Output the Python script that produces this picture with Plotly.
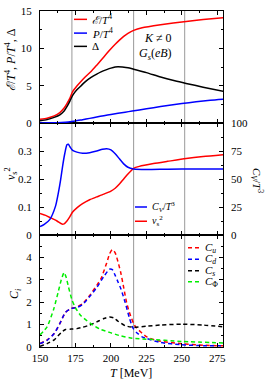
import plotly.graph_objects as go

# ---------------- data ----------------
# top panel
T_eps = [150, 155, 160, 164, 167, 169, 171, 173, 176, 179, 182, 186, 190, 193, 197, 200, 203, 206, 209, 212, 216, 222, 235, 253, 265, 280]
eps = [0.5, 0.65, 0.95, 1.4, 2.0, 2.6, 3.3, 4.2, 4.95, 5.6, 6.2, 6.9, 7.75, 8.4, 9.3, 9.95, 10.55, 11.1, 11.6, 12.0, 12.4, 12.75, 13.15, 13.6, 13.85, 14.1]
T_delta = [150, 155, 160, 164, 167, 169, 171, 173, 176, 179, 182, 186, 190, 193, 197, 200, 203, 205, 208, 212, 216, 225, 235, 245, 253, 265, 280]
delta = [0.3, 0.45, 0.75, 1.1, 1.6, 2.2, 2.9, 3.7, 4.45, 5.0, 5.55, 6.1, 6.55, 6.85, 7.15, 7.35, 7.5, 7.55, 7.5, 7.4, 7.2, 6.75, 6.15, 5.65, 5.3, 4.8, 4.2]
T_p = [150, 160, 165, 170, 175, 180, 185, 190, 195, 200, 210, 215, 220, 230, 240, 250, 260, 270, 280]
pres = [0.0, 0.02, 0.07, 0.15, 0.28, 0.45, 0.62, 0.8, 0.98, 1.15, 1.45, 1.6, 1.75, 2.05, 2.35, 2.6, 2.85, 3.05, 3.2]

# middle panel
T_cv = [150, 153, 157, 161, 163, 164.5, 166, 167.5, 169, 170, 171, 173, 176, 180, 185, 190, 194, 197, 200, 203, 206, 209, 212, 216, 225, 240, 260, 280]
cv = [7.5, 9.5, 14, 26, 38, 49, 62, 73, 80.5, 81, 79, 75.5, 74, 73, 73.5, 75, 76.5, 77, 76, 72.5, 68, 63.5, 60.5, 59, 58.5, 58.8, 59, 59]
T_vs = [150, 154, 158, 162, 165.5, 167, 169, 171, 173, 176, 180, 185, 190, 195, 200, 203, 206, 209, 212, 216, 220, 230, 240, 253, 265, 280]
vs2 = [0.077, 0.07, 0.06, 0.05, 0.039, 0.04, 0.05, 0.065, 0.082, 0.097, 0.112, 0.126, 0.136, 0.146, 0.157, 0.167, 0.182, 0.2, 0.218, 0.238, 0.245, 0.255, 0.263, 0.273, 0.28, 0.287]

# bottom panel
T_u = [150, 155, 160, 164, 168, 172, 176, 180, 185, 190, 193, 197, 199, 201, 203, 205, 207, 209, 211, 213, 216, 218, 222, 225, 233, 250, 265, 280]
cu = [0.15, 0.32, 0.6, 1.05, 1.55, 1.72, 1.78, 1.93, 2.3, 2.75, 3.05, 3.75, 4.15, 4.35, 4.2, 3.8, 3.3, 2.65, 2.0, 1.55, 1.05, 0.85, 0.62, 0.46, 0.28, 0.15, 0.08, 0.05]
T_d = [150, 155, 160, 164, 168, 172, 176, 180, 185, 190, 195, 199, 201, 203, 205, 207, 210, 213, 215.5, 218, 222, 225, 235, 250, 265, 280]
cd = [0.15, 0.3, 0.6, 1.05, 1.55, 1.72, 1.76, 1.9, 2.25, 2.65, 3.15, 3.47, 3.45, 3.2, 2.9, 2.6, 2.0, 1.3, 0.85, 0.65, 0.45, 0.38, 0.2, 0.1, 0.06, 0.05]
T_s = [150, 155, 160, 165, 168, 172, 176, 180, 185, 190, 195, 199, 202, 205, 210, 216, 225, 235, 250, 265, 280]
cs = [0.03, 0.15, 0.32, 0.65, 0.78, 0.8, 0.82, 0.88, 0.98, 1.12, 1.27, 1.34, 1.3, 1.15, 0.95, 0.88, 0.93, 0.98, 1.02, 0.98, 0.9]
T_phi = [150, 155, 159.7, 163, 165, 167, 168.5, 170, 172.7, 175, 178.5, 185.6, 192.6, 199.6, 206.7, 215, 225, 250, 280]
cphi = [0.54, 0.9, 1.7, 2.5, 3.0, 3.33, 3.1, 2.7, 2.07, 1.75, 1.42, 1.05, 0.79, 0.64, 0.5, 0.39, 0.35, 0.25, 0.18]

vlines_T = [172.5, 216, 252]
x_ticks = [150, 175, 200, 225, 250, 275]

# ---------------- figure ----------------
FONT = "Liberation Serif"
W, H = 266, 380
ML, MR, MT, MB = 40, 43, 5, 33
PW, PH = W - ML - MR, H - MT - MB


def px(xp):
    return (xp - ML) / PW


def py(yp):
    return (H - MB - yp) / PH


fig = go.Figure()


def line(color, dash="solid"):
    return dict(color=color, width=1.5, dash=dash, shape="spline", smoothing=0.6)


RED, BLUE, BLACK, GREEN = "#ff0000", "#0000ff", "#000000", "#00ee00"
DASH = "4px,3px"

series = [
    (T_eps, eps, "x3", "y4", "<i>ℰ</i>/<i>T</i><sup>4</sup>", RED, "solid"),
    (T_p, pres, "x3", "y4", "<i>P</i>/<i>T</i><sup>4</sup>", BLUE, "solid"),
    (T_delta, delta, "x3", "y4", "Δ", BLACK, "solid"),
    (T_cv, cv, "x2", "y3", "<i>C<sub>V</sub></i>/<i>T</i><sup>3</sup>", BLUE, "solid"),
    (T_vs, vs2, "x2", "y2", "<i>v</i><sub>s</sub><sup>2</sup>", RED, "solid"),
    (T_u, cu, "x", "y", "<i>C<sub>u</sub></i>", RED, DASH),
    (T_d, cd, "x", "y", "<i>C<sub>d</sub></i>", BLUE, DASH),
    (T_s, cs, "x", "y", "<i>C<sub>s</sub></i>", BLACK, DASH),
    (T_phi, cphi, "x", "y", "<i>C</i><sub>Φ</sub>", GREEN, DASH),
]
for xs, ys, xa, ya, name, col, dsh in series:
    fig.add_trace(go.Scatter(x=xs, y=ys, xaxis=xa, yaxis=ya, mode="lines", name=name,
                             line=line(col, dsh), showlegend=False))

tickfont = dict(family=FONT, size=11, color="black")
common = dict(showline=True, linecolor="black", linewidth=1, mirror="ticks", ticks="inside",
              ticklen=4, tickcolor="black", showgrid=False, zeroline=False, tickfont=tickfont)


def minor(d, t0=0):
    return dict(ticks="inside", ticklen=2, tickcolor="black", dtick=d, tick0=t0)


xr = [150, 279]
fig.update_layout(
    xaxis=dict(domain=[0, 1], anchor="y", range=xr, tickvals=x_ticks, ticklabelstandoff=1,
               minor=minor(12.5, 150), **common),
    xaxis2=dict(domain=[0, 1], anchor="y2", range=xr, tickvals=x_ticks, showticklabels=False,
                minor=minor(12.5, 150), **common),
    xaxis3=dict(domain=[0, 1], anchor="y4", range=xr, tickvals=x_ticks, showticklabels=False,
                minor=minor(12.5, 150), **common),
    yaxis=dict(domain=[0, 1 / 3], anchor="x", range=[0, 5], tickvals=[0, 1, 2, 3, 4],
               ticklabelstandoff=5, minor=minor(0.5), **common),
    yaxis2=dict(domain=[1 / 3, 2 / 3], anchor="x2", range=[0, 0.4], tickvals=[0, 0.1, 0.2, 0.3],
                ticktext=["0", "0.1", "0.2", "0.3"], ticklabelstandoff=5, minor=minor(0.05), **common),
    yaxis3=dict(domain=[1 / 3, 2 / 3], anchor="x2", overlaying="y2", side="right", range=[0, 100],
                tickvals=[0, 25, 50, 75, 100], ticks="inside", ticklen=4, tickcolor="black",
                showline=False, showgrid=False, zeroline=False, tickfont=tickfont, ticklabelstandoff=7,
                minor=minor(12.5)),
    yaxis4=dict(domain=[2 / 3, 1], anchor="x3", range=[0, 15], tickvals=[0, 5, 10, 15],
                ticklabelstandoff=5, minor=minor(2.5), **common),
)

for T in vlines_T:
    fig.add_shape(type="line", xref="x", yref="paper", x0=T, x1=T, y0=0, y1=1,
                  line=dict(color="#999999", width=1), layer="below")

ann_font = dict(family=FONT, size=12, color="black")
leg_font = dict(family=FONT, size=11, color="black")
leg_font_s = dict(family=FONT, size=10, color="black")


def text(xp, yp, s, angle=0, anchor="center", font=ann_font):
    fig.add_annotation(x=px(xp), y=py(yp), xref="paper", yref="paper", showarrow=False,
                       text=s, textangle=angle, xanchor=anchor, yanchor="middle", font=font)


# manual legends (key line + label)
legend_rows = [
    (74, 87, 90, 13.5, 0, leg_font), (74, 87, 90, 27.5, 1, leg_font), (74, 87, 90, 41, 2, leg_font),
    (135, 147, 150, 204.5, 3, leg_font_s), (135, 147, 150, 219, 4, leg_font_s),
    (188, 200, 203, 246, 5, leg_font), (188, 200, 203, 257.7, 6, leg_font),
    (188, 200, 203, 269.3, 7, leg_font), (188, 200, 203, 280.7, 8, leg_font),
]
for x0, x1, xt, yr, i, f in legend_rows:
    _, _, _, _, name, col, dsh = series[i]
    fig.add_shape(type="line", xref="paper", yref="paper", x0=px(x0), x1=px(x1), y0=py(yr), y1=py(yr),
                  line=dict(color=col, width=1.5, dash=dsh))
    text(xt, yr, name, anchor="left", font=f)

text(157.5, 32, "<i>K</i> ≠ 0")
text(155.5, 49, "<i>G<sub>s</sub></i>(<i>eB</i>)")
# axis titles
text(10, 55, "<i>ℰ</i>/<i>T</i><sup>4</sup>, <i>P</i>/<i>T</i><sup>4</sup>, Δ", angle=-90)
text(11, 171, "<i>v</i><sub>s</sub><sup>2</sup>", angle=-90)
text(257, 177, "<i>C<sub>V</sub></i>/<i>T</i><sup>3</sup>", angle=90, font=leg_font)
text(15, 292, "<i>C<sub>i</sub></i>", angle=-90)
text(131, 373, "<i>T</i> [MeV]")

fig.update_layout(width=W, height=H, margin=dict(l=ML, r=MR, t=MT, b=MB),
                  paper_bgcolor="white", plot_bgcolor="white", showlegend=False,
                  font=dict(family=FONT, color="black"))

fig.write_html("out.html", config={"displayModeBar": False},
               post_script="document.body.style.margin='0';")
